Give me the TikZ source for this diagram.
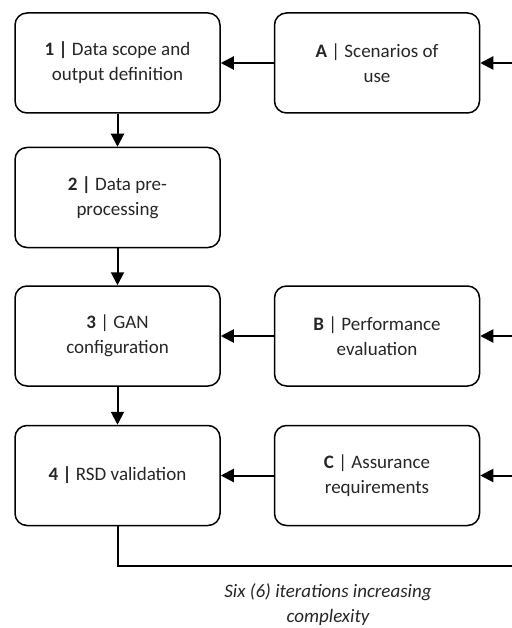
\documentclass[tikz,border=0pt]{standalone}
\usepackage{fontspec}
\setmainfont{Carlito}
\usetikzlibrary{positioning,arrows.meta}

\begin{document}
\begin{tikzpicture}[x=1pt,y=1pt,
        stage/.style={draw,rounded corners=12pt,align=center,text=black!85,
                      font=\fontsize{19}{25}\selectfont,line width=1.5pt,
                      minimum width=205pt,minimum height=100pt,inner sep=4pt},
        arr/.style={-{Triangle[length=13pt,width=13pt]},line width=2pt}]
        \useasboundingbox (0,0) rectangle (511,-628);
        % main pipeline on the left
        \node[stage] (s1) at (117.5,-63) {\textbf{1 |} Data scope and\\output definition};
        \node[stage,below=33pt of s1] (s2) {\textbf{2 |} Data pre-\\processing};
        \node[stage,below=37pt of s2] (s3) {\textbf{3} | GAN\\configuration};
        \node[stage,below=38pt of s3] (s4) {\textbf{4 |} RSD validation};
        % inputs on the right
        \node[stage,right=53pt of s1] (sA) {\textbf{A} | Scenarios of\\use};
        \node[stage,right=53pt of s3] (sB) {\textbf{B} | Performance\\evaluation};
        \node[stage,right=53pt of s4] (sC) {\textbf{C} | Assurance\\requirements};
        \coordinate (eA) at ([xshift=32pt]sA.east);
        \coordinate (eB) at ([xshift=32pt]sB.east);
        \coordinate (eC) at ([xshift=32pt]sC.east);
        \coordinate (back) at ([xshift=32pt,yshift=-40pt]sC.south east);
        \node[text=black!85,align=center,font=\fontsize{19}{25}\selectfont\itshape]
            (iter) at (328,-605) {Six (6) iterations increasing\\complexity};
        \draw[arr] (s1) -- (s2); \draw[arr] (s2) -- (s3); \draw[arr] (s3) -- (s4);
        \draw[arr] (sA) -- (s1); \draw[arr] (sB) -- (s3); \draw[arr] (sC) -- (s4);
        \draw[arr] (eA) -- (sA); \draw[arr] (eB) -- (sB); \draw[arr] (eC) -- (sC);
        \draw[line width=2pt] (s4.south) |- (back);
    \end{tikzpicture}
\end{document}
